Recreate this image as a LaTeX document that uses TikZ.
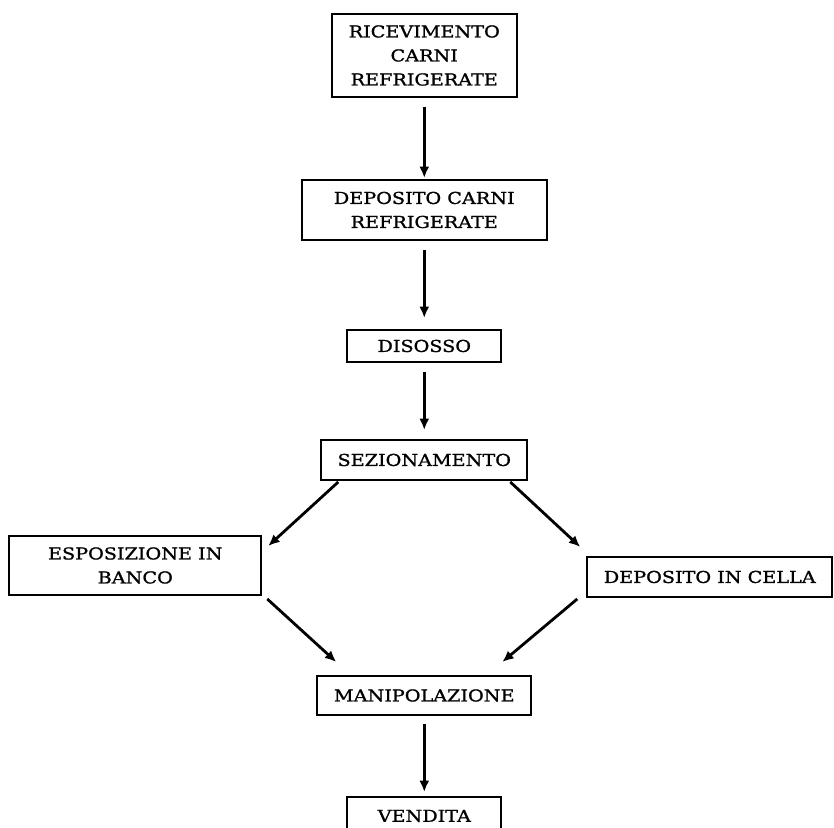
\documentclass[tikz,border=0pt]{standalone}
\usepackage{fontspec}
\setmainfont{DejaVu Serif}[FakeStretch=1.17,FakeBold=1.2]
\usetikzlibrary{arrows.meta,positioning}

\begin{document}
\begin{tikzpicture}[font=\fontsize{12.3}{18}\selectfont,
    box/.style={draw, line width=1.4pt, align=center, inner sep=0pt, outer sep=0pt},
    flow/.style={->, >={Latex[length=8.5pt,width=7.5pt]}, line width=2.1pt}]

   \useasboundingbox (0,0) rectangle (625.5pt,-620.25pt);

   \node[box,
         minimum width=138.75pt,
         minimum height=62.25pt] (ric) at (318.2pt,-41.6pt) {RICEVIMENTO\\CARNI\\REFRIGERATE};
   \node[box,
         below=62.25pt of ric,
         minimum width=183.75pt,
         minimum height=45pt] (dep) {DEPOSITO CARNI\\REFRIGERATE};
   \node[box,
         below=67.5pt of dep,
         minimum width=115.5pt,
         minimum height=24pt] (dis) {DISOSSO};
   \node[box,
         below=58.5pt of dis,
         minimum width=154.5pt,
         minimum height=30pt] (sez) {SEZIONAMENTO};
   \node[box,
         below left=42pt and 45pt of sez,
         minimum width=189pt,
         minimum height=44.25pt] (esp) {ESPOSIZIONE IN\\BANCO};
   \node[box,
         below right=57.75pt and 45pt of sez,
         minimum width=183.75pt,
         minimum height=30pt] (cel) {DEPOSITO IN CELLA};
   \node[box,
         below=147pt of sez,
         minimum width=160.5pt,
         minimum height=29.25pt] (man) {MANIPOLAZIONE};
   \node[box,
         below=61.5pt of man,
         minimum width=115.5pt,
         minimum height=28.5pt] (ven) {VENDITA};

   % vertical steps
   \draw[flow]
       (ric) edge[shorten <=7.5pt, shorten >=1.5pt] (dep)
       (dep) edge[shorten <=7.5pt, shorten >=9pt] (dis)
       (dis) edge[shorten <=7.5pt, shorten >=7.5pt] (sez)
       (man) edge[shorten <=6.75pt, shorten >=3.75pt] (ven);

   % split and merge
   \draw[flow] ([xshift=12.75pt,yshift=-1.5pt]sez.south west) -- ([xshift=5.25pt,yshift=-7.5pt]esp.north east);
   \draw[flow] ([xshift=-12.75pt,yshift=-1.5pt]sez.south east) -- ([xshift=-5.25pt,yshift=7.5pt]cel.north west);
   \draw[flow] ([xshift=4.5pt,yshift=-3pt]esp.south east) -- ([xshift=14.25pt,yshift=10.5pt]man.north west);
   \draw[flow] ([xshift=-7.5pt,yshift=-1.5pt]cel.south west) -- ([xshift=-21.75pt,yshift=10.5pt]man.north east);
\end{tikzpicture}
\end{document}
